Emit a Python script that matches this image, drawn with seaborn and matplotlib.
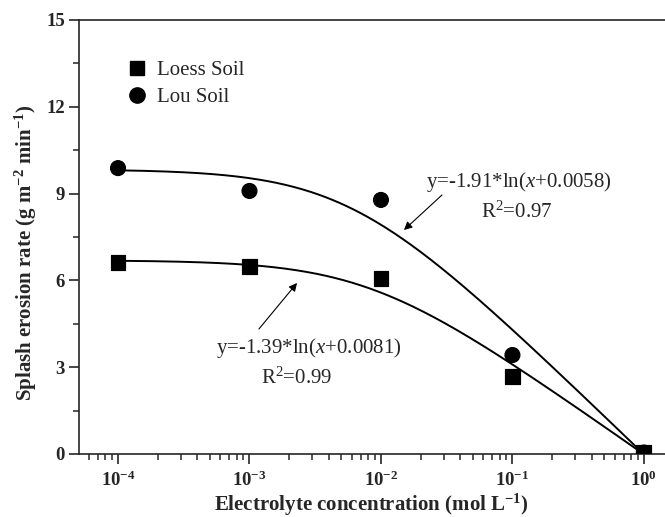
import numpy as np
import pandas as pd
import matplotlib
matplotlib.use("Agg")
import matplotlib.pyplot as plt
import seaborn as sns
from matplotlib.ticker import LogLocator, MultipleLocator, FixedLocator, NullFormatter
from matplotlib.lines import Line2D

# ---- data ----
concentration = [1e-4, 1e-3, 1e-2, 1e-1, 1e0]
loess_rate = [6.63, 6.48, 6.05, 2.67, 0.05]
lou_rate = [9.88, 9.09, 8.78, 3.42, 0.05]
series_names = ["Loess Soil", "Lou Soil"]
# fitted curve coefficients as printed on the chart: y = a*ln(x + c)
loess_fit = (-1.39, 0.0081)
lou_fit = (-1.91, 0.0058)
x_tick_values = [1e-4, 1e-3, 1e-2, 1e-1, 1e0]
x_tick_labels = [r"$\mathbf{10^{-4}}$", r"$\mathbf{10^{-3}}$", r"$\mathbf{10^{-2}}$",
                 r"$\mathbf{10^{-1}}$", r"$\mathbf{10^{0}}$"]
y_tick_values = [0, 3, 6, 9, 12, 15]

sns.set_style("ticks")
plt.rcParams["font.family"] = ["Liberation Serif", "DejaVu Serif"]
plt.rcParams["mathtext.fontset"] = "custom"
plt.rcParams["mathtext.rm"] = "Liberation Serif"
plt.rcParams["mathtext.it"] = "Liberation Serif:italic"
plt.rcParams["mathtext.bf"] = "Liberation Serif:bold"

df = pd.DataFrame({
    "x": concentration * 2,
    "y": loess_rate + lou_rate,
    "soil": [series_names[0]] * len(concentration) + [series_names[1]] * len(concentration),
})

fig = plt.figure(figsize=(6.65, 5.17), dpi=100)
ax = fig.add_axes([0.1188, 0.1219, 0.909, 0.8395])

# fitted curves
xs = np.logspace(-4, 0, 300)
for a, c in (loess_fit, lou_fit):
    sns.lineplot(x=xs, y=a * np.log(xs + c), ax=ax, color="black", lw=1.4, legend=False)

sns.scatterplot(data=df, x="x", y="y", style="soil",
                markers={series_names[0]: "s", series_names[1]: "o"},
                color="black", s=115, edgecolor="black", ax=ax, legend=False, zorder=5)

ax.set_xscale("log")
ax.set_xlim(5.05e-5, 2.0)
ax.set_ylim(0, 15)

ax.xaxis.set_major_locator(FixedLocator(x_tick_values))
ax.set_xticklabels(x_tick_labels)
ax.xaxis.set_minor_locator(LogLocator(base=10, subs=np.arange(2, 10), numticks=20))
ax.xaxis.set_minor_formatter(NullFormatter())
ax.yaxis.set_major_locator(FixedLocator(y_tick_values))
ax.set_yticklabels([str(v) for v in y_tick_values])
ax.yaxis.set_minor_locator(MultipleLocator(1.5))

for sp in ax.spines.values():
    sp.set_linewidth(1.2)
ax.spines["right"].set_visible(False)
ax.tick_params(which="major", direction="out", length=7, width=1.2, labelsize=13.5,
               top=False, right=False)
ax.tick_params(axis="x", which="major", pad=5)
ax.tick_params(axis="y", which="major", pad=3)
ax.tick_params(which="minor", direction="out", length=4, width=1.1, top=False, right=False)
for lab in ax.get_yticklabels():
    lab.set_fontweight("bold")

ax.set_xlabel(r"Electrolyte concentration (mol L$\mathbf{^{-1}}$)", fontsize=15,
              fontweight="bold")
ax.set_ylabel(r"Splash erosion rate (g m$\mathbf{^{-2}}$ min$\mathbf{^{-1}}$)", fontsize=15,
              fontweight="bold")
ax.xaxis.set_label_coords(0.4835, -0.117)
ax.xaxis.label.set_verticalalignment("center")
ax.yaxis.set_label_coords(-0.0876, 0.463)
ax.yaxis.label.set_verticalalignment("center")

# legend
handles = [Line2D([], [], marker="s", color="black", ls="none", markersize=10),
           Line2D([], [], marker="o", color="black", ls="none", markersize=11)]
ax.legend(handles, series_names, loc="upper left", bbox_to_anchor=(0.047, 0.95),
          frameon=False, fontsize=15, handletextpad=0.5, labelspacing=0.35,
          handlelength=1.0)

# annotations
ax.annotate("", xy=(0.01496, 7.74), xytext=(0.0291, 8.95),
            xycoords="data", textcoords="data",
            arrowprops=dict(arrowstyle="-|>", color="black", lw=0.8, mutation_scale=12,
                            shrinkA=0, shrinkB=0))
ax.text(0.112, 9.40, r"y=-1.91*ln($x$+0.0058)", fontsize=15, ha="center", va="center")
ax.text(0.108, 8.36, r"R$^2$=0.97", fontsize=15, ha="center", va="center")

ax.annotate("", xy=(0.0023, 5.91), xytext=(0.00118, 4.32),
            xycoords="data", textcoords="data",
            arrowprops=dict(arrowstyle="-|>", color="black", lw=0.8, mutation_scale=12,
                            shrinkA=0, shrinkB=0))
ax.text(0.00283, 3.66, r"y=-1.39*ln($x$+0.0081)", fontsize=15, ha="center", va="center")
ax.text(0.0023, 2.63, r"R$^2$=0.99", fontsize=15, ha="center", va="center")

fig.savefig("out.png", dpi=100)
